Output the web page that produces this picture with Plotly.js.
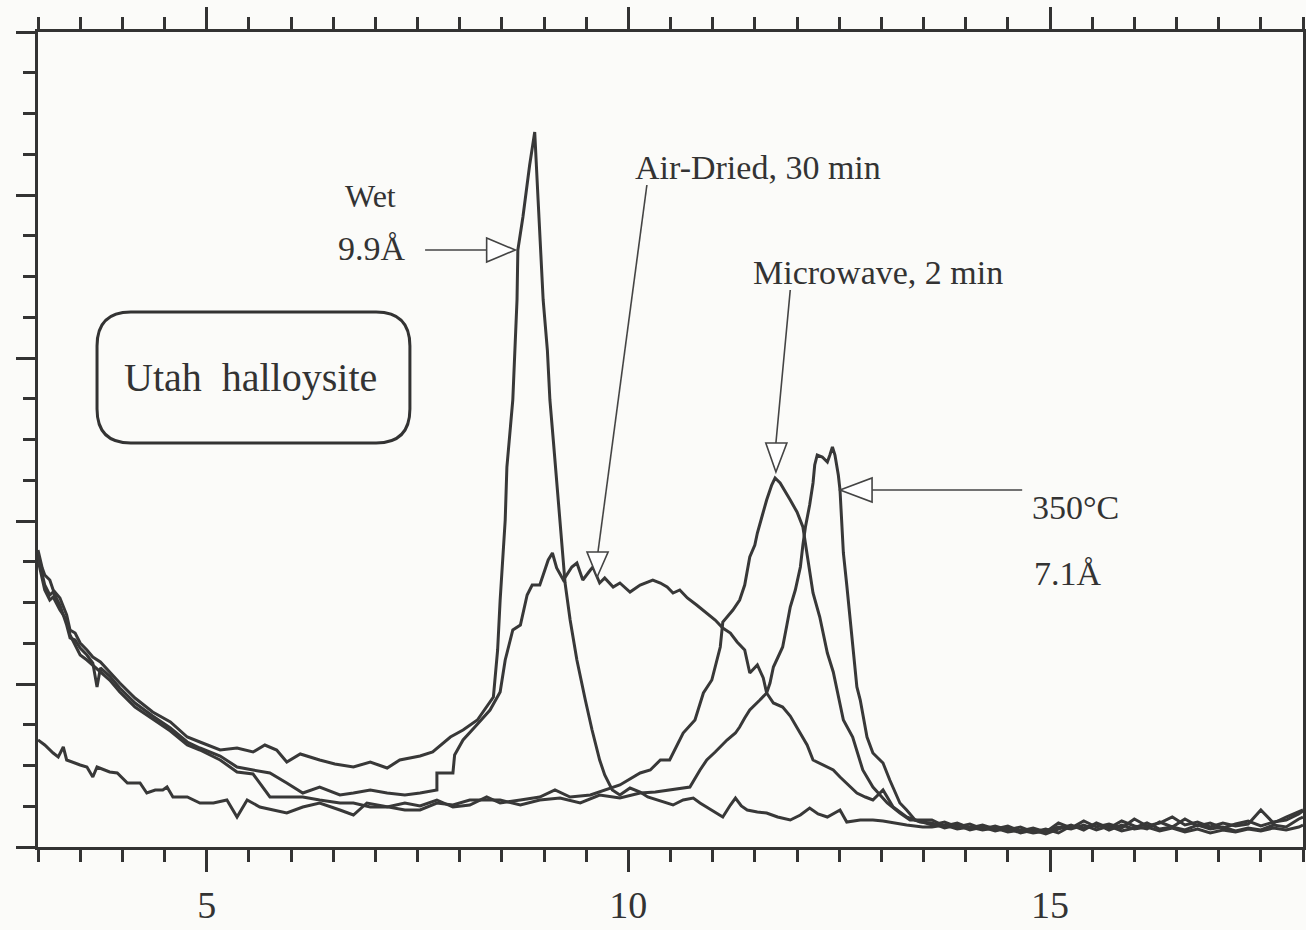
<!DOCTYPE html>
<html>
<head>
<meta charset="utf-8">
<script src="https://cdn.plot.ly/plotly-3.0.1.min.js"></script>
<style>html,body{margin:0;padding:0;background:#fff;}#chart{width:1306px;height:930px;}</style>
</head>
<body>
<div id="chart"></div>
<script>
// 2-theta (degrees) and intensity (arbitrary counts)
const wetX = [3.00,3.05,3.08,3.14,3.18,3.26,3.34,3.38,3.44,3.50,3.58,3.65,3.74,3.85,3.97,4.15,4.36,4.57,4.77,4.92,5.16,5.36,5.55,5.69,5.83,5.95,6.11,6.34,6.52,6.74,6.94,7.14,7.29,7.53,7.68,7.89,8.04,8.21,8.32,8.40,8.45,8.48,8.54,8.56,8.63,8.68,8.69,8.75,8.83,8.89,8.93,8.99,9.04,9.07,9.11,9.15,9.20,9.25,9.31,9.39,9.49,9.57,9.66,9.72,9.81,9.90,10.02,10.14,10.23,10.34,10.44,10.53,10.65,10.77,10.85,10.93,11.03,11.12,11.21,11.27,11.34,11.41,11.53,11.64,11.77,11.92,12.04,12.15,12.25,12.36,12.51,12.59,12.75,12.90,13.02,13.14,13.30,13.49];
const wetY = [297,279,272,267,257,249,232,217,214,204,197,190,185,175,164,149,135,125,110,105,97,99,95,102,97,85,93,87,83,80,85,79,87,91,95,110,117,127,140,150,197,247,327,380,447,547,597,630,682,715,647,547,497,447,407,364,317,264,227,187,147,117,87,72,57,52,59,55,50,47,44,42,47,49,44,40,35,30,42,49,41,37,35,34,30,27,32,39,33,30,37,25,27,27,26,24,22,20];

const airX = [3.00,3.05,3.08,3.14,3.18,3.26,3.34,3.38,3.44,3.50,3.58,3.65,3.70,3.74,3.85,3.97,4.15,4.36,4.57,4.77,4.92,5.16,5.36,5.55,5.75,5.95,6.14,6.34,6.58,6.74,6.94,7.14,7.35,7.53,7.73,7.73,7.92,7.94,8.04,8.18,8.36,8.48,8.54,8.60,8.63,8.72,8.77,8.80,8.86,8.95,8.99,9.05,9.10,9.15,9.23,9.33,9.39,9.46,9.55,9.58,9.66,9.72,9.82,9.90,10.02,10.14,10.29,10.38,10.46,10.53,10.61,10.70,10.81,10.93,11.03,11.12,11.21,11.29,11.38,11.44,11.53,11.60,11.64,11.72,11.83,11.92,12.04,12.12,12.19,12.31,12.43,12.51,12.63,12.71,12.81,12.90,13.02,13.14,13.30,13.46];
const airY = [291,272,262,252,255,242,222,209,207,199,192,184,160,179,171,159,144,131,119,105,99,91,80,77,74,64,54,60,52,54,57,54,52,54,57,74,74,92,107,120,137,155,187,207,217,222,242,252,262,262,272,287,294,279,267,280,284,267,277,280,264,269,260,264,255,262,267,264,260,254,257,249,242,234,227,219,214,205,197,174,182,169,154,144,140,131,114,102,87,82,77,70,60,54,50,47,57,40,30,25];

const microX = [3.00,3.05,3.08,3.14,3.18,3.26,3.34,3.38,3.44,3.50,3.58,3.65,3.74,3.85,3.97,4.15,4.36,4.57,4.77,4.92,5.16,5.36,5.55,5.75,5.95,6.14,6.34,6.58,6.74,6.94,7.14,7.35,7.53,7.73,7.92,8.12,8.32,8.48,8.72,8.95,9.13,9.31,9.55,9.72,9.90,10.14,10.26,10.38,10.49,10.65,10.79,10.89,10.99,11.09,11.12,11.24,11.32,11.38,11.44,11.50,11.53,11.59,11.64,11.70,11.74,11.80,11.83,11.92,12.00,12.07,12.13,12.19,12.27,12.36,12.43,12.47,12.55,12.66,12.78,12.90,13.07,13.22,13.34];
const microY = [287,267,257,247,250,237,227,212,202,192,187,182,175,167,155,140,128,116,102,97,87,75,73,50,50,50,47,44,44,40,40,44,41,47,40,42,50,44,47,50,57,50,52,57,62,74,77,87,87,114,127,154,167,200,225,237,247,262,290,302,314,332,347,362,369,364,360,347,335,320,287,254,230,194,175,160,127,110,77,60,44,34,27];

const heatX = [3.00,3.08,3.18,3.24,3.30,3.34,3.50,3.58,3.65,3.70,3.85,3.94,4.06,4.21,4.29,4.39,4.48,4.53,4.60,4.77,4.92,5.08,5.24,5.36,5.48,5.63,5.79,5.95,6.14,6.34,6.58,6.74,6.90,7.14,7.35,7.53,7.73,7.92,8.12,8.48,8.72,8.95,9.19,9.43,9.66,9.90,10.14,10.32,10.49,10.61,10.73,10.85,10.93,11.03,11.17,11.27,11.32,11.38,11.44,11.56,11.64,11.68,11.72,11.77,11.83,11.88,11.92,11.98,12.04,12.07,12.10,12.15,12.19,12.21,12.24,12.30,12.36,12.39,12.42,12.45,12.49,12.51,12.55,12.59,12.63,12.66,12.71,12.75,12.83,12.90,13.02,13.10,13.22,13.30,13.40];
const heatY = [107,102,94,90,100,87,82,80,70,80,75,74,64,64,54,57,57,60,50,50,44,44,47,30,47,40,37,34,40,44,37,32,44,40,37,37,44,42,47,47,42,47,49,44,52,49,54,55,57,59,60,77,87,95,107,114,120,129,137,147,154,164,180,189,200,222,240,257,280,302,320,342,364,382,392,390,385,392,400,392,372,357,294,262,227,202,160,147,110,94,84,67,44,37,27];

// common high-angle baseline region
const baseX = [13.6,13.75,13.9,14.05,14.2,14.35,14.5,14.65,14.8,14.95,15.1,15.25,15.4,15.55,15.7,15.85,16.0,16.15,16.3,16.45,16.6,16.75,16.9,17.05,17.2,17.35,17.5,17.65,17.8,17.95,18.0];
const wetBase   = [20,22,18,20,17,19,15,17,14,16,20,18,22,17,21,16,19,24,18,20,17,22,18,20,16,19,17,22,20,28,30];
const airBase   = [24,19,22,17,20,16,19,14,17,13,18,22,17,24,19,26,21,18,25,20,28,21,24,19,23,26,21,25,27,33,36];
const microBase = [27,21,24,19,22,18,21,16,19,15,24,19,26,20,23,19,28,21,24,30,22,25,20,24,21,23,37,24,30,35,37];
const heatBase  = [22,25,20,23,18,21,17,20,15,18,14,21,19,23,17,22,18,20,16,19,15,18,14,17,15,18,16,19,17,20,22];

const seriesNames = ['Wet', 'Air-Dried, 30 min', 'Microwave, 2 min', '350°C'];
const xTicks = [5, 10, 15];

const lineStyle = {color: '#383838', width: 3};
const traces = [
  [wetX, wetY, wetBase],
  [airX, airY, airBase],
  [microX, microY, microBase],
  [heatX, heatY, heatBase]
].map((s, i) => ({
  type: 'scatter', mode: 'lines', name: seriesNames[i],
  x: s[0].concat(baseX), y: s[1].concat(s[2]),
  line: lineStyle, hoverinfo: 'skip'
}));

const serif = 'Liberation Serif, Times New Roman, serif';
const ink = '#333';
const txt = (text, x, y, size) => ({text, x, y, xref: 'x', yref: 'y', showarrow: false,
  font: {family: serif, size: size || 34, color: ink}, xanchor: 'center', yanchor: 'middle'});

const annotations = [
  txt('Wet', 6.94, 651, 32),
  txt('9.9Å', 6.96, 599, 34),
  txt('Air-Dried, 30 min', 11.54, 680, 34),
  txt('Microwave, 2 min', 12.96, 575, 34),
  txt('350°C', 15.30, 340, 34),
  txt('7.1Å', 15.21, 274, 34),
  txt('Utah&nbsp;&nbsp;halloysite', 5.52, 470, 40)
];

const arrowLine = {color: '#444', width: 1.6};
const shapes = [
  // sample label box
  {type: 'path', xref: 'x', yref: 'y', line: {color: ink, width: 3},
   path: 'M 4.10,535 L 7.01,535 Q 7.41,535 7.41,501 L 7.41,438 Q 7.41,404 7.01,404 L 4.10,404 Q 3.70,404 3.70,438 L 3.70,501 Q 3.70,535 4.10,535 Z'},
  // Wet arrow
  {type: 'line', xref: 'x', yref: 'y', x0: 7.59, y0: 597, x1: 8.32, y1: 597, line: arrowLine},
  {type: 'path', xref: 'x', yref: 'y', fillcolor: 'white', line: arrowLine, path: 'M 8.32,609 L 8.66,597 L 8.32,585 Z'},
  // Air-dried arrow
  {type: 'line', xref: 'x', yref: 'y', x0: 10.22, y0: 662, x1: 9.64, y1: 295, line: arrowLine},
  {type: 'path', xref: 'x', yref: 'y', fillcolor: 'white', line: arrowLine, path: 'M 9.51,295 L 9.76,295 L 9.63,270 Z'},
  // Microwave arrow
  {type: 'line', xref: 'x', yref: 'y', x0: 11.92, y0: 557, x1: 11.75, y1: 404, line: arrowLine},
  {type: 'path', xref: 'x', yref: 'y', fillcolor: 'white', line: arrowLine, path: 'M 11.63,404 L 11.88,404 L 11.75,375 Z'},
  // 350 C arrow
  {type: 'line', xref: 'x', yref: 'y', x0: 14.67, y0: 357, x1: 12.89, y1: 357, line: arrowLine},
  {type: 'path', xref: 'x', yref: 'y', fillcolor: 'white', line: arrowLine, path: 'M 12.89,369 L 12.89,345 L 12.51,357 Z'}
];

const layout = {
  width: 1306, height: 930,
  margin: {l: 38, r: 3, t: 32, b: 83},
  paper_bgcolor: '#fbfbf9', plot_bgcolor: '#fbfbf9',
  showlegend: false,
  xaxis: {
    range: [3, 18], tickmode: 'array', tickvals: xTicks, ticktext: xTicks.map(String),
    ticks: 'outside', ticklen: 22, tickwidth: 3, tickcolor: ink,
    showline: true, linewidth: 3, linecolor: ink, mirror: 'ticks',
    showgrid: false, zeroline: false, ticklabelstandoff: 0,
    tickfont: {family: serif, size: 38, color: ink},
    minor: {tickmode: 'linear', tick0: 3, dtick: 0.5, ticks: 'outside', ticklen: 12, tickwidth: 3, tickcolor: ink, showgrid: false}
  },
  yaxis: {
    range: [0, 815], tickmode: 'linear', tick0: 0, dtick: 163,
    ticks: 'outside', ticklen: 19, tickwidth: 3, tickcolor: ink, showticklabels: false,
    showline: true, linewidth: 3, linecolor: ink, mirror: 'ticks',
    showgrid: false, zeroline: false,
    minor: {tickmode: 'linear', tick0: 0, dtick: 40.75, ticks: 'outside', ticklen: 12, tickwidth: 3, tickcolor: ink, showgrid: false}
  },
  annotations: annotations,
  shapes: shapes
};

Plotly.newPlot('chart', traces, layout, {staticPlot: true, displayModeBar: false});
</script>
</body>
</html>
